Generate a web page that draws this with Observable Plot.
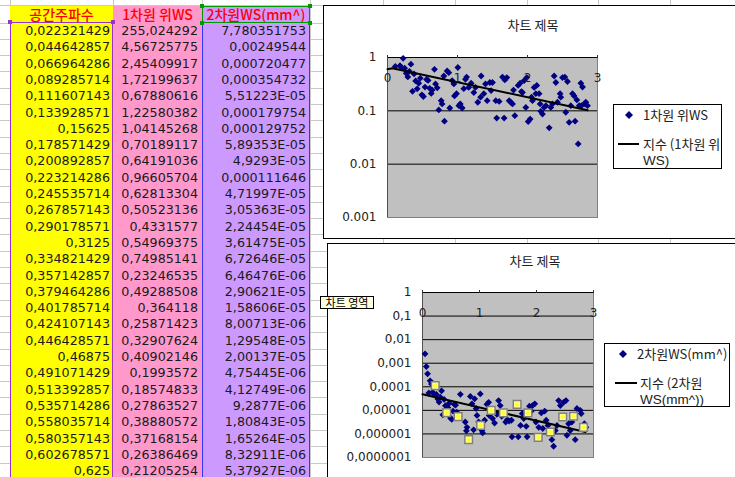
<!DOCTYPE html>
<html><head><meta charset="utf-8">
<script src="https://cdn.jsdelivr.net/npm/d3@7"></script>
<script src="https://cdn.jsdelivr.net/npm/@observablehq/plot@0.6"></script>
<style>
body{margin:0;width:735px;height:477px;overflow:hidden;position:relative;background:#fff;font-family:"DejaVu Sans",sans-serif;}
.a{position:absolute;}
.cell{position:absolute;box-sizing:border-box;text-align:right;padding-right:3px;font-size:12.7px;color:#1a1a1a;white-space:nowrap;}
.hdr{position:absolute;box-sizing:border-box;text-align:center;color:#ff0000;font-family:"Noto Sans CJK KR";font-size:14px;font-weight:500;white-space:nowrap;}
.ttl{position:absolute;font-family:"Noto Sans CJK KR";font-size:13px;color:#222;white-space:nowrap;transform:translate(-50%,-50%);}
.leg{position:absolute;box-sizing:border-box;border:1px solid #000;background:#fff;font-family:"Noto Sans CJK KR";font-size:13px;color:#222;}
.leg div{position:absolute;white-space:nowrap;}
</style></head>
<body>
<script>
// ---- spreadsheet text (as shown) ----
const headers = ["공간주파수", "1차원 위WS", "2차원WS(mm^)"];
const freqLabels = ["0,022321429","0,044642857","0,066964286","0,089285714","0,111607143","0,133928571","0,15625","0,178571429","0,200892857","0,223214286","0,245535714","0,267857143","0,290178571","0,3125","0,334821429","0,357142857","0,379464286","0,401785714","0,424107143","0,446428571","0,46875","0,491071429","0,513392857","0,535714286","0,558035714","0,580357143","0,602678571","0,625"];
const ws1Labels = ["255,024292","4,56725775","2,45409917","1,72199637","0,67880616","1,22580382","1,04145268","0,70189117","0,64191036","0,96605704","0,62813304","0,50523136","0,4331577","0,54969375","0,74985141","0,23246535","0,49288508","0,364118","0,25871423","0,32907624","0,40902146","0,1993572","0,18574833","0,27863527","0,38880572","0,37168154","0,26386469","0,21205254"];
const ws2Labels = ["7,780351753","0,00249544","0,000720477","0,000354732","5,51223E-05","0,000179754","0,000129752","5,89353E-05","4,9293E-05","0,000111646","4,71997E-05","3,05363E-05","2,24454E-05","3,61475E-05","6,72646E-05","6,46476E-06","2,90621E-05","1,58606E-05","8,00713E-06","1,29548E-05","2,00137E-05","4,75445E-06","4,12749E-06","9,2877E-06","1,80843E-05","1,65264E-05","8,32911E-06","5,37927E-06"];

// ---- further points (x > 0.625) ----
const ws1MoreX = [0.638,0.671,0.686,0.71,0.733,0.767,0.78,0.805,0.814,0.852,0.876,0.89,0.924,0.948,0.957,0.986,1.005,1.019,1.04,1.067,1.09,1.114,1.13,1.16,1.195,1.233,1.257,1.29,1.33,1.338,1.376,1.40,1.424,1.462,1.48,1.50,1.547,1.56,1.595,1.643,1.666,1.676,1.705,1.738,1.762,1.786,1.80,1.819,1.866,1.895,1.914,1.928,1.952,1.976,1.99,2.01,2.038,2.057,2.071,2.095,2.119,2.133,2.166,2.18,2.19,2.214,2.238,2.262,2.31,2.333,2.357,2.381,2.405,2.428,2.466,2.476,2.50,2.533,2.547,2.571,2.595,2.619,2.643,2.666,2.68,2.705,2.724,2.738,2.762,2.77,2.786,2.81,2.833,2.857];
const ws1MoreY = [0.245,0.60,0.32,0.27,0.104,0.155,0.135,0.45,0.064,0.56,0.52,0.113,0.37,0.32,0.19,0.21,0.65,0.125,0.135,0.113,0.26,0.39,0.43,0.275,0.33,0.22,0.275,0.145,0.18,0.45,0.21,0.32,0.155,0.34,0.24,0.34,0.155,0.073,0.15,0.43,0.073,0.38,0.42,0.155,0.145,0.135,0.245,0.081,0.30,0.33,0.23,0.22,0.37,0.116,0.42,0.063,0.070,0.18,0.155,0.275,0.21,0.30,0.21,0.135,0.098,0.087,0.116,0.125,0.048,0.116,0.135,0.45,0.34,0.145,0.21,0.18,0.42,0.43,0.094,0.355,0.061,0.125,0.21,0.19,0.064,0.16,0.024,0.125,0.33,0.125,0.28,0.135,0.145,0.125];

const ws2MoreX = [0.664,0.75,0.77,0.78,0.81,0.84,0.868,0.897,0.915,0.94,0.956,0.985,1.014,1.02,1.043,1.055,1.09,1.13,1.16,1.17,1.206,1.23,1.265,1.305,1.335,1.364,1.39,1.42,1.46,1.49,1.52,1.56,1.57,1.66,1.68,1.72,1.75,1.776,1.82,1.835,1.85,1.876,1.91,1.93,1.97,1.99,2.03,2.04,2.085,2.11,2.144,2.17,2.2,2.243,2.27,2.3,2.33,2.36,2.388,2.418,2.46,2.476,2.517,2.534,2.563,2.592,2.62,2.65,2.68,2.71,2.767,2.785,2.825,2.84,2.866];
const ws2MoreY = [4.8e-5,3.2e-6,1.35e-6,1.9e-6,5.7e-7,3.9e-5,1.9e-5,1.5e-6,3.1e-5,1.2e-5,6.1e-6,3.2e-6,5e-5,2.3e-6,1.4e-6,1.1e-6,3.8e-6,1.8e-5,2.2e-5,6.1e-6,1e-5,4.5e-6,2.9e-6,6.8e-6,2.6e-5,1.6e-5,5.6e-6,7.8e-6,3.2e-6,4e-6,3.5e-6,3.8e-6,7.5e-7,1.8e-5,7.5e-7,2.3e-6,7.3e-6,4.5e-6,2.1e-6,7.5e-7,7.8e-6,1.5e-5,9.3e-6,1.6e-5,1.9e-5,3.2e-6,7.1e-7,1.9e-6,7.8e-6,1.7e-6,9.3e-6,3.8e-6,2.3e-6,1.2e-6,5.7e-7,3e-7,1.4e-6,2.3e-6,2.6e-5,1.6e-5,5.2e-6,2.2e-5,2.6e-5,8.7e-7,2.7e-6,1.4e-6,3.2e-6,5.6e-6,5.7e-7,1.2e-5,1e-5,7.3e-6,1.9e-6,2.7e-6,1.9e-6];

// highlighted (yellow) points of the second chart
const ws2HiX = [0.2232,0.4241,0.625,0.81,1.02,1.206,1.42,1.66,1.85,2.03,2.243,2.46,2.65,2.825];
const ws2HiY = [1.116e-4,8.0e-6,5.4e-6,5.7e-7,2.3e-6,1e-5,7.8e-6,1.8e-5,7.8e-6,7.1e-7,1.2e-6,5.2e-6,5.6e-6,1.9e-6];

// exponential trend lines as drawn
const trend1X = [0, 0.07, 2.86];
const trend1Y = [0.6, 0.63, 0.103];
const trend2X = [0, 2.86];
const trend2Y = [4.8e-5, 1.2e-6];

// axes
const xTicks = [0, 1, 2, 3];
const yTicks1 = [1, 0.1, 0.01, 0.001];
const yLabels1 = ["1", "0.1", "0.01", "0.001"];
const yTicks2 = [1, 1e-1, 1e-2, 1e-3, 1e-4, 1e-5, 1e-6, 1e-7];
const yLabels2 = ["1", "0,1", "0,01", "0,001", "0,0001", "0,00001", "0,000001", "0,0000001"];
const chartTitle = "차트 제목";
const legend1 = ["1차원 위WS", "지수 (1차원 위", "WS)"];
const legend2 = ["2차원WS(mm^)", "지수 (2차원", "WS(mm^))"];
const tooltipText = "차트 영역";

// ---------- build page ----------
const num = s => +s.replace(",", ".");
const body = document.body;
function el(cls, css, html, parent) {
  const d = document.createElement("div");
  if (cls) d.className = cls;
  d.style.cssText = css;
  if (html != null) d.textContent = html;
  (parent || body).appendChild(d);
  return d;
}
const rowH = 16.3, hdrTop = 6, hdrBot = 23;
const GRID = "#c8c8c8";
// gridlines
el("a", `left:0;top:5px;width:735px;height:1px;background:${GRID}`);
for (let k = 0; k <= 28; k++) el("a", `left:0;top:${(hdrBot + rowH * k - 0.5).toFixed(1)}px;width:735px;height:1px;background:${GRID}`);
[10, 113, 202, 310, 383, 455, 527, 598, 670].forEach(x => el("a", `left:${x}px;top:0;width:1px;height:477px;background:${GRID}`));

const cols = [
  {left: 10, w: 103, bg: "#ffff00", labels: freqLabels},
  {left: 113, w: 89, bg: "#ff99cc", labels: ws1Labels},
  {left: 202, w: 108, bg: "#cc99ff", labels: ws2Labels}
];
cols.forEach((c, j) => {
  el("a", `left:${c.left}px;top:${hdrTop}px;width:${c.w}px;height:${477 - hdrTop}px;background:${c.bg}`);
  el("hdr", `left:${c.left}px;top:${hdrTop}px;width:${c.w}px;height:${hdrBot - hdrTop}px;line-height:${hdrBot - hdrTop}px`, headers[j]);
  c.labels.forEach((t, i) => {
    el("cell", `left:${c.left}px;top:${(hdrBot + rowH * i).toFixed(1)}px;width:${c.w}px;height:${rowH}px;line-height:${rowH}px;padding-right:${j === 0 ? 3 : 4}px`, t);
  });
});
// selection outlines
const PUR = "#9933cc", BLU = "#3333ff", GRN = "#009900";
el("a", `left:10px;top:${hdrBot}px;width:1px;height:460px;background:${PUR}`);
el("a", `left:112px;top:${hdrBot}px;width:1px;height:460px;background:${PUR}`);
el("a", `left:10px;top:${hdrBot - 1}px;width:103px;height:1px;background:${PUR}`);
[[10, hdrBot], [113, hdrBot]].forEach(([x, y]) => el("a", `left:${x - 2}px;top:${y - 3}px;width:4px;height:4px;background:${PUR}`));
el("a", `left:202px;top:${hdrBot}px;width:1px;height:460px;background:${BLU}`);
el("a", `left:309px;top:${hdrBot}px;width:1px;height:460px;background:${BLU}`);
el("a", `box-sizing:border-box;left:202px;top:${hdrTop}px;width:108px;height:${hdrBot - hdrTop}px;border:1px solid ${GRN}`);
[[202, hdrTop], [310, hdrTop], [202, hdrBot], [310, hdrBot]].forEach(([x, y]) => el("a", `left:${x - 2}px;top:${y - 2}px;width:4px;height:4px;background:${GRN}`));

// chart frames
el("a", "box-sizing:border-box;left:323px;top:5px;width:430px;height:234px;border:1px solid #000;background:#fff");
el("a", "box-sizing:border-box;left:327px;top:243px;width:430px;height:250px;border:1px solid #000;background:#fff");

const diamond = {draw(ctx, size) { const r = Math.sqrt(size / Math.PI); ctx.moveTo(0, -r); ctx.lineTo(r, 0); ctx.lineTo(0, r); ctx.lineTo(-r, 0); ctx.closePath(); }};

function makeChart(pts, trend, hi, yTicks, yLabels, gridY, dim) {
  const ymin = yTicks[yTicks.length - 1];
  const marks = [
    Plot.frame({fill: "#c0c0c0", stroke: "#808080"}),
    Plot.ruleY(gridY, {stroke: "#000"}),
    Plot.ruleY([1], {stroke: "#000"}),
    Plot.ruleX([0], {stroke: "#505050"}),
    Plot.dot(pts, {x: "x", y: "y", filter: d => d.y <= 1 && d.y >= ymin, symbol: diamond, r: 3.4, fill: "#000080", stroke: "none"}),
    Plot.line(trend, {x: "x", y: "y", stroke: "#000", strokeWidth: 2})
  ];
  if (hi) {
    marks.push(Plot.dot(hi, {x: "x", y: "y", symbol: "square", r: 4.3, fill: "#ffff99", stroke: "#808080"}));
    marks.push(Plot.dot(hi, {x: "x", y: "y", symbol: diamond, r: 2.8, fill: "#ffff33", stroke: "none"}));
  }
  marks.push(
    Plot.axisX(xTicks, {anchor: "top", tickSize: 3, tickFormat: () => "", stroke: "#333"}),
    Plot.text(xTicks, {x: d => d, frameAnchor: "top", dy: 16, text: d => String(d), fill: "#222", fontSize: 12}),
    Plot.axisY(yTicks, {anchor: "left", tickSize: 0, tickPadding: 11, tickFormat: d => yLabels[yTicks.indexOf(d)], fill: "#222", fontSize: 12})
  );
  return Plot.plot({
    width: dim.w, height: dim.h,
    marginLeft: dim.ml, marginTop: dim.mt, marginRight: dim.mr, marginBottom: dim.mb,
    x: {type: "linear", domain: [0, 3], label: null},
    y: {type: "log", domain: [ymin, 1], label: null},
    style: {background: "transparent", fontFamily: "DejaVu Sans", fontSize: "12px", color: "#222", overflow: "visible"},
    marks
  });
}

const pts1 = freqLabels.map((f, i) => ({x: num(f), y: num(ws1Labels[i])}))
  .concat(ws1MoreX.map((x, i) => ({x, y: ws1MoreY[i]})));
const pts2 = freqLabels.map((f, i) => ({x: num(f), y: num(ws2Labels[i])}))
  .concat(ws2MoreX.map((x, i) => ({x, y: ws2MoreY[i]})));
const tr1 = trend1X.map((x, i) => ({x, y: trend1Y[i]}));
const tr2 = trend2X.map((x, i) => ({x, y: trend2Y[i]}));
const hi2 = ws2HiX.map((x, i) => ({x, y: ws2HiY[i]}));

const c1 = makeChart(pts1, tr1, null, yTicks1, yLabels1, [0.1, 0.01],
  {w: 412, h: 233, ml: 64, mt: 52, mr: 138, mb: 21});
const w1 = el("a", "left:323px;top:5px;width:412px;height:233px");
w1.appendChild(c1);
const c2 = makeChart(pts2, tr2, hi2, yTicks2, yLabels2, [1e-1, 1e-2, 1e-3, 1e-4, 1e-5, 1e-6],
  {w: 408, h: 234, ml: 95, mt: 49, mr: 142, mb: 20});
const w2 = el("a", "left:327px;top:243px;width:408px;height:234px");
w2.appendChild(c2);

// titles
el("ttl", "left:533px;top:24px", chartTitle);
el("ttl", "left:535px;top:260px", chartTitle);

// legends
const diaSvg = () => {
  const d = document.createElement("div");
  d.innerHTML = `<svg width="8" height="8" style="display:block"><polygon points="4,0 8,4 4,8 0,4" fill="#000080"/></svg>`;
  return d;
};
function legend(css, texts, dx, lineL, lineW, tx2) {
  const L = el("leg", css);
  const d = diaSvg(); d.style.cssText = `left:${dx}px;top:6px`; L.appendChild(d);
  el("", `left:${dx + 18}px;top:2px;height:16px;line-height:16px`, texts[0], L);
  el("", `left:${lineL}px;top:38px;width:${lineW}px;height:2px;background:#000`, null, L);
  el("", `left:${tx2}px;top:31px;height:16px;line-height:16px`, texts[1], L);
  el("", `left:${tx2}px;top:48px;height:16px;line-height:16px;font-family:'Liberation Sans';font-size:13.5px`, texts[2], L);
}
legend("left:613px;top:104px;width:109px;height:65px", legend1, 11, 4, 21, 29);
legend("left:604px;top:343px;width:126px;height:64px", legend2, 14, 10, 22, 35);

// tooltip
el("a", `box-sizing:border-box;left:320px;top:296px;width:54px;height:13px;border:1px solid #000;background:#ffffe1;font-family:'Noto Sans CJK KR';font-size:11px;line-height:11px;text-align:center;color:#000;white-space:nowrap`, tooltipText);
</script>
</body></html>
